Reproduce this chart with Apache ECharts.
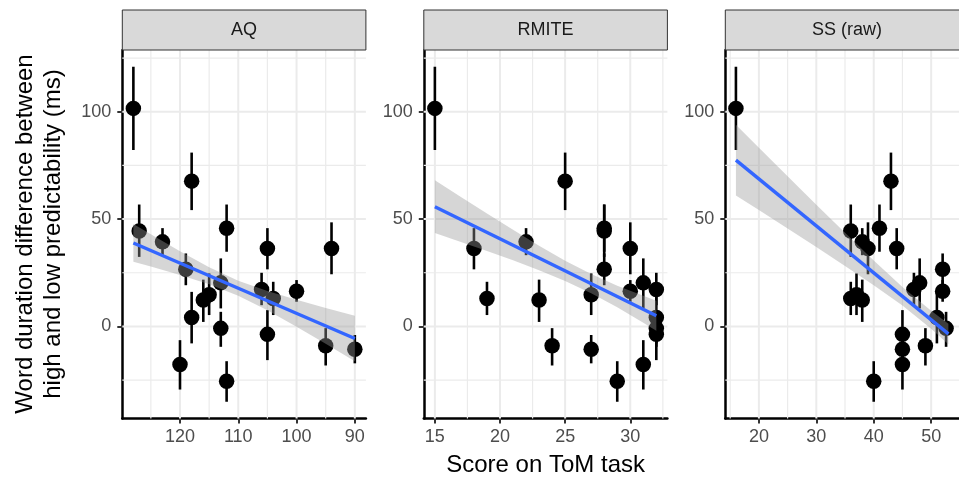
<!DOCTYPE html>
<html><head><meta charset="utf-8">
<script src="https://cdn.jsdelivr.net/npm/echarts@6/dist/echarts.min.js"></script>
<style>html,body{margin:0;padding:0;background:#fff}#c{width:959px;height:479px}</style>
</head><body><div id="c"></div>
<script>
// ---- data ----
const panelNames = ['AQ', 'RMITE', 'SS (raw)'];
const yTitle = 'Word duration difference between\nhigh and low predictability (ms)';
const xTitle = 'Score on ToM task';

// per-participant effect (ms) and its error bar
const effect     = [101.6, 67.7, 45.7, 44.5, 39.4, 36.3, 36.3, 26.6, 20.3, 17.2, 16.4, 14.8, 13.0, 12.3, 4.2, -0.9, -3.7, -9.0, -10.6, -17.7, -25.5];
const effectLow  = [82.2, 54.2, 34.8, 32.4, 33.2, 26.6, 24.3, 19.2, 8.4, 9.9, 11.5, 5.3, 5.3, 2.1, -7.9, -9.5, -15.7, -18.2, -17.2, -29.4, -35.1];
const effectHigh = [121.0, 81.0, 56.8, 56.8, 45.8, 45.8, 48.5, 34.0, 31.7, 25.0, 21.6, 24.7, 20.8, 21.8, 16.1, 6.8, 7.6, -0.8, -4.0, -6.4, -16.2];

// scores on each task
const aqScore    = [128, 118, 112, 127, 123, 105, 94, 119, 113, 106, 100, 115, 104, 116, 118, 113, 105, 95, 90, 120, 112];
const rmiteScore = [15, 25, 28, 28, 22, 18, 30, 28, 31, 32, 30, 27, 19, 23, 32, 32, 32, 24, 27, 31, 29];
const ssScore    = [16, 43, 41, 36, 38, 44, 39, 52, 48, 47, 52, 37, 36, 38, 51, 52.6, 45, 49, 45, 45, 40];

// axis ranges and ticks
const yRange = [-42.9, 128.8];
const yTicks = [0, 50, 100];
const yMinor = [-25, 25, 75, 125];
const aqRange = [88.1, 129.9],    aqTicks = [90, 100, 110, 120],  aqMinor = [95, 105, 115, 125];
const rmiteRange = [14.15, 32.85], rmiteTicks = [15, 20, 25, 30], rmiteMinor = [17.5, 22.5, 27.5, 32.5];
const ssRange = [14.15, 54.85],   ssTicks = [20, 30, 40, 50],     ssMinor = [15, 25, 35, 45];

// linear fits (end points) and confidence bands
const aqFitX = [128, 90],    aqFitY = [38.9, -5.6];
const rmiteFitX = [15, 32],  rmiteFitY = [55.8, 5.0];
const ssFitX = [16, 53],     ssFitY = [77.5, -3.5];

const aqBandX    = [90, 95, 100, 105, 110, 115, 120, 125, 128];
const aqBandLow  = [-16.2, -8.1, -0.2, 7.5, 14.3, 19.7, 24.0, 27.9, 30.1];
const aqBandHigh = [5.0, 8.6, 12.4, 16.5, 21.3, 27.6, 35.0, 42.9, 47.7];

const rmiteBandX    = [15, 17, 19, 21, 23, 25, 27, 29, 31, 32];
const rmiteBandLow  = [43.5, 39.3, 35.1, 30.8, 26.2, 21.2, 15.5, 8.9, 1.7, -2.0];
const rmiteBandHigh = [68.1, 60.3, 52.6, 45.0, 37.6, 30.6, 24.4, 19.0, 14.3, 12.0];

const ssBandX    = [16, 20, 25, 30, 35, 40, 45, 50, 53];
const ssBandLow  = [61.0, 54.2, 45.6, 37.0, 28.2, 19.2, 9.7, -1.1, -8.3];
const ssBandHigh = [94.0, 83.3, 70.0, 56.7, 43.6, 30.7, 18.4, 7.3, 1.3];

// ---- build chart ----
const FONT = '"Liberation Sans", Arial, Helvetica, sans-serif';
const panels = [
  {score: aqScore, range: aqRange, ticks: aqTicks, minor: aqMinor, fx: aqFitX, fy: aqFitY, bx: aqBandX, bl: aqBandLow, bh: aqBandHigh, inverse: true},
  {score: rmiteScore, range: rmiteRange, ticks: rmiteTicks, minor: rmiteMinor, fx: rmiteFitX, fy: rmiteFitY, bx: rmiteBandX, bl: rmiteBandLow, bh: rmiteBandHigh, inverse: false},
  {score: ssScore, range: ssRange, ticks: ssTicks, minor: ssMinor, fx: ssFitX, fy: ssFitY, bx: ssBandX, bl: ssBandLow, bh: ssBandHigh, inverse: false}
];
const PW = 243.6, PH = 368.5, TOP = 50, LEFT0 = 122.3, STEP = 301.5;

const grid = [], xAxis = [], yAxis = [], series = [], graphic = [];
panels.forEach((p, i) => {
  const left = LEFT0 + i * STEP;
  grid.push({left: left, top: TOP, width: PW, height: PH});
  xAxis.push({
    gridIndex: i, type: 'value', min: p.range[0], max: p.range[1], inverse: p.inverse,
    axisLine: {show: true, onZero: false, lineStyle: {color: '#000', width: 2.5}},
    axisTick: {show: true, length: 5, customValues: p.ticks, lineStyle: {color: '#333', width: 2}},
    axisLabel: {customValues: p.ticks, color: '#4D4D4D', fontSize: 18, margin: 10, fontFamily: FONT},
    splitLine: {show: false}
  });
  yAxis.push({
    gridIndex: i, type: 'value', min: yRange[0], max: yRange[1],
    axisLine: {show: true, onZero: false, lineStyle: {color: '#000', width: 2.5}},
    axisTick: {show: true, length: 5, customValues: yTicks, lineStyle: {color: '#333', width: 2}},
    axisLabel: {customValues: yTicks, color: '#4D4D4D', fontSize: 18, margin: 11, fontFamily: FONT},
    splitLine: {show: false}
  });
  // grid lines: [orientation (0 horizontal,1 vertical), value, major]
  const gl = [];
  yMinor.forEach(v => gl.push([0, v, 0]));
  p.minor.forEach(v => gl.push([1, v, 0]));
  yTicks.forEach(v => gl.push([0, v, 1]));
  p.ticks.forEach(v => gl.push([1, v, 1]));
  series.push({
    type: 'custom', xAxisIndex: i, yAxisIndex: i, z: 1, silent: true, animation: false,
    data: gl,
    renderItem: function (params, api) {
      const cs = params.coordSys;
      const o = api.value(0), v = api.value(1), major = api.value(2);
      const w = major ? 2 : 1.2;
      if (o === 0) {
        const y = api.coord([p.range[0], v])[1];
        if (y < cs.y || y > cs.y + cs.height) return null;
        return {type: 'line', shape: {x1: cs.x, y1: y, x2: cs.x + cs.width, y2: y}, style: {stroke: '#EBEBEB', lineWidth: w}};
      } else {
        const x = api.coord([v, yRange[0]])[0];
        if (x < cs.x || x > cs.x + cs.width) return null;
        return {type: 'line', shape: {x1: x, y1: cs.y, x2: x, y2: cs.y + cs.height}, style: {stroke: '#EBEBEB', lineWidth: w}};
      }
    }
  });
  // error bars
  series.push({
    type: 'custom', xAxisIndex: i, yAxisIndex: i, z: 2, silent: true, animation: false,
    encode: {x: 0, y: [1, 2]},
    data: p.score.map((s, k) => [s, effectLow[k], effectHigh[k]]),
    renderItem: function (params, api) {
      const a = api.coord([api.value(0), api.value(1)]);
      const b = api.coord([api.value(0), api.value(2)]);
      return {type: 'line', shape: {x1: a[0], y1: a[1], x2: b[0], y2: b[1]}, style: {stroke: '#000', lineWidth: 2.6}};
    }
  });
  // points
  series.push({
    type: 'scatter', xAxisIndex: i, yAxisIndex: i, z: 3, silent: true, animation: false,
    symbol: 'circle', symbolSize: 15.5, itemStyle: {color: '#000', opacity: 1},
    data: p.score.map((s, k) => [s, effect[k]])
  });
  // confidence band
  series.push({
    type: 'custom', xAxisIndex: i, yAxisIndex: i, z: 4, silent: true, animation: false,
    data: p.bx.map((x, k) => [x, p.bl[k], p.bh[k]]),
    encode: {x: 0, y: [1, 2]},
    renderItem: function (params, api) {
      if (params.dataIndex !== 0) return null;
      const pts = [];
      for (let k = 0; k < p.bx.length; k++) pts.push(api.coord([p.bx[k], p.bh[k]]));
      for (let k = p.bx.length - 1; k >= 0; k--) pts.push(api.coord([p.bx[k], p.bl[k]]));
      return {type: 'polygon', shape: {points: pts}, style: {fill: 'rgba(153,153,153,0.4)'}};
    }
  });
  // fitted line
  series.push({
    type: 'line', xAxisIndex: i, yAxisIndex: i, z: 5, silent: true, animation: false,
    showSymbol: false, symbol: 'none',
    lineStyle: {color: '#3366FF', width: 3.4, opacity: 1},
    data: p.fx.map((x, k) => [x, p.fy[k]])
  });
  // strip
  graphic.push({type: 'rect', shape: {x: left, y: 10, width: PW, height: 40},
    style: {fill: '#D9D9D9', stroke: '#333', lineWidth: 1}, z: 10});
  graphic.push({type: 'text', x: left + PW / 2, y: 30, z: 11,
    style: {text: panelNames[i], fontSize: 18, fontFamily: FONT, fill: '#1A1A1A', textAlign: 'center', textVerticalAlign: 'middle'}});
});

graphic.push({type: 'text', x: 39, y: 234, rotation: Math.PI / 2, z: 11,
  style: {text: yTitle, fontSize: 24, lineHeight: 28, fontFamily: FONT, fill: '#000', textAlign: 'center', textVerticalAlign: 'middle'}});
graphic.push({type: 'text', x: LEFT0 + (2 * STEP + PW) / 2, y: 465, z: 11,
  style: {text: xTitle, fontSize: 24, fontFamily: FONT, fill: '#000', textAlign: 'center', textVerticalAlign: 'middle'}});

const chart = echarts.init(document.getElementById('c'), null, {renderer: 'canvas'});
chart.setOption({animation: false, backgroundColor: '#fff', grid, xAxis, yAxis, series, graphic});
</script></body></html>
